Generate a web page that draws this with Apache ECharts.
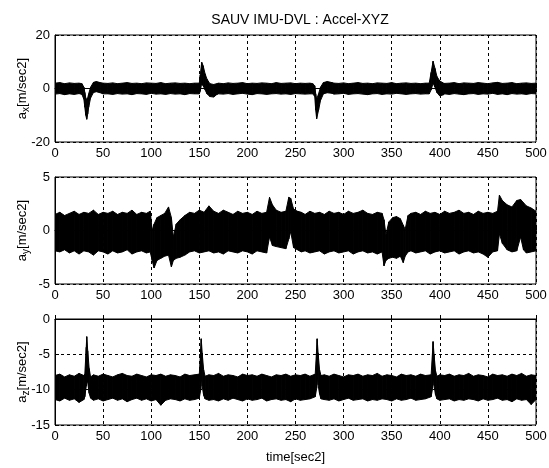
<!DOCTYPE html>
<html>
<head>
<meta charset="utf-8">
<script src="https://cdn.jsdelivr.net/npm/echarts@6/dist/echarts.min.js"></script>
<style>
  html, body { margin: 0; padding: 0; background: #fff; }
  #chart { width: 549px; height: 468px; }
</style>
</head>
<body>
<div id="chart"></div>
<script>
// a_x : envelope of the noisy signal (upper / lower edge)
const axTime = [
  0, 5, 10, 15, 20, 25,
  28, 30, 31, 32, 33, 34, 35, 37, 40, 43, 47, 50,
  55, 60, 65, 70, 75, 80, 85, 90, 95, 100, 105, 110, 115, 120, 125, 130, 135, 140, 145,
  150, 151, 152.5, 154, 156, 158, 161, 165, 168,
  170, 175, 180, 185, 190, 195, 200, 205, 210, 215, 220, 225, 230, 235, 240, 245, 250, 255, 260, 265,
  268, 270, 271, 272, 274, 276, 279, 283, 288,
  290, 295, 300, 305, 310, 315, 320, 325, 330, 335, 340, 345, 350, 355, 360, 365, 370, 375, 380, 385,
  389, 391, 393, 395, 397, 400, 404,
  405, 410, 415, 420, 425, 430, 435, 440, 445, 450, 455, 460, 465, 470, 475, 480, 485, 490, 495, 500
];
const axHigh = [
  2.0, 2.2, 1.8, 2.1, 1.9, 2.0,
  1.8, 0.5, -1.5, -3.5, -4.5, -3.5, -2.0, 0.5, 2.3, 2.6, 2.2, 2.0,
  1.9, 2.1, 1.8, 2.0, 2.2, 1.9, 2.0, 1.8, 2.1, 2.0, 1.9, 2.2, 1.8, 2.0, 2.1, 1.9, 2.0, 1.8, 2.0,
  2.0, 5.0, 9.8, 8.5, 5.5, 3.5, 1.8, 1.5, 1.8,
  2.0, 1.8, 2.1, 1.9, 2.0, 2.2, 1.8, 2.0, 1.9, 2.1, 2.0, 1.8, 2.2, 1.9, 2.0, 2.1, 1.8, 2.0, 1.9, 2.0,
  1.8, 1.0, -2.0, -4.0, -2.0, 0.5, 2.2, 2.6, 2.2,
  2.0, 1.9, 2.1, 1.8, 2.0, 2.2, 1.9, 2.0, 1.8, 2.1, 2.0, 1.9, 2.2, 1.8, 2.0, 2.1, 1.9, 2.0, 1.8, 2.0,
  2.0, 6.0, 10.2, 7.5, 4.5, 2.8, 2.0,
  1.9, 2.0, 2.2, 1.8, 2.1, 2.0, 1.9, 2.2, 2.0, 1.8, 2.1, 2.3, 1.9, 2.0, 2.2, 1.8, 2.0, 2.1, 1.9, 2.0
];
const axLow = [
  -2.1, -1.9, -2.3, -2.0, -2.2, -1.9,
  -2.2, -4.0, -7.0, -10.0, -11.5, -9.5, -7.0, -3.5, -1.5, -1.2, -1.6, -2.0,
  -2.0, -2.2, -1.9, -2.1, -2.0, -2.3, -1.9, -2.0, -2.2, -1.8, -2.1, -2.0, -2.2, -1.9, -2.1, -2.0, -2.3, -1.9, -2.0,
  -2.0, -1.0, 2.0, 1.0, -0.5, -2.0, -3.0, -3.2, -2.3,
  -2.0, -2.1, -1.9, -2.2, -2.0, -1.8, -2.1, -2.3, -1.9, -2.0, -2.2, -2.0, -1.9, -2.1, -2.0, -2.2, -1.9, -2.0, -2.1, -2.0,
  -2.0, -3.0, -8.0, -11.3, -8.0, -4.5, -2.0, -1.6, -1.8,
  -2.1, -2.0, -1.8, -2.2, -2.0, -1.9, -2.1, -2.3, -2.0, -1.9, -2.2, -2.0, -2.1, -1.8, -2.0, -2.2, -2.0, -1.9, -2.1, -2.0,
  -2.0, -0.5, 2.0, 0.5, -1.5, -2.8, -2.3,
  -2.0, -2.2, -1.9, -2.1, -2.3, -2.0, -1.9, -2.2, -2.0, -2.1, -1.8, -2.2, -2.0, -2.3, -1.9, -2.1, -2.0, -2.2, -1.9, -2.0
];

// a_y
const ayTime = [
  0, 5, 10, 15, 20, 25, 30, 35, 40, 45, 50, 55, 60, 65, 70, 75, 80, 85, 90, 95,
  99, 101, 103, 106, 110, 114, 118, 121, 123, 126, 130, 135, 140, 145,
  150, 155, 160, 165, 170, 175, 180, 185, 190, 195, 200, 205, 210, 215, 220,
  223, 226, 230, 235, 240, 243, 245, 248, 252, 256,
  260, 265, 270, 275, 280, 285, 290, 295, 300, 305, 310, 315, 320, 325, 330, 335, 340,
  342, 344, 347, 351, 355, 359, 362, 364, 367,
  370, 375, 380, 385, 390, 395, 400, 405, 410, 415, 420, 425, 430, 435, 440, 445, 450, 455, 460,
  462, 465, 470, 475, 480, 484, 487, 490, 495, 500
];
const ayHigh = [
  1.5, 1.7, 1.4, 1.6, 1.8, 1.5, 1.7, 1.6, 1.9, 1.5, 1.7, 1.6, 1.8, 1.5, 1.7, 1.6, 1.9, 1.5, 1.7, 1.6,
  1.8, 0.0, 0.6, 1.2, 1.4, 1.6, 2.2, 1.2, -0.6, 0.6, 1.0, 1.4, 1.7, 1.6,
  1.9, 1.7, 2.3, 1.8, 1.6, 1.9, 1.7, 1.5, 1.8, 1.6, 1.7, 1.5, 1.8, 1.6, 1.7,
  3.1, 2.4, 1.9, 1.7, 1.8, 3.1, 3.0, 2.0, 1.8, 1.7,
  1.5, 1.8, 1.6, 1.7, 1.5, 1.8, 1.6, 1.7, 1.5, 1.8, 1.6, 1.7, 1.9, 1.6, 1.5, 1.7, 1.6,
  1.0, -0.4, 0.8, 1.2, 1.3, 1.1, 0.5, 0.1, 1.4,
  1.6, 1.7, 1.5, 1.8, 1.6, 1.7, 1.5, 1.8, 1.6, 1.7, 1.9, 1.6, 1.7, 1.5, 1.8, 1.6, 1.7, 1.6, 1.8,
  3.3, 2.8, 2.4, 2.2, 2.8, 2.9, 2.6, 2.3, 2.1, 1.8
];
const ayLow = [
  -1.9, -2.0, -1.8, -2.1, -1.9, -2.2, -1.9, -2.0, -2.3, -1.9, -2.0, -2.2, -1.9, -2.1, -2.0, -1.8, -2.2, -2.0, -1.9, -2.1,
  -2.0, -2.8, -3.5, -2.8, -2.6, -2.4, -2.3, -3.4, -2.8, -2.6, -2.5, -2.3, -2.0, -1.9,
  -2.1, -2.0, -1.9, -2.1, -2.0, -2.2, -1.9, -2.0, -2.1, -1.9, -2.0, -2.2, -1.9, -2.0, -2.1,
  -0.6, -1.4, -1.5, -1.6, -1.7, -0.8, -0.1, -1.6, -1.8, -2.0,
  -1.9, -2.1, -2.0, -1.9, -2.2, -2.0, -1.9, -2.1, -2.0, -1.9, -2.2, -2.0, -1.9, -2.1, -2.0, -2.2, -2.0,
  -3.3, -2.8, -2.6, -2.5, -2.6, -2.4, -3.0, -2.4, -2.0,
  -1.9, -2.1, -2.0, -1.9, -2.2, -2.0, -1.9, -2.1, -2.0, -1.9, -2.2, -2.0, -1.9, -2.1, -2.0, -2.2, -2.5, -2.0, -1.9,
  -0.3, -1.2, -1.8, -2.0, -1.9, -0.6, -1.8, -2.1, -2.0, -1.9
];

// a_z
const azTime = [
  0, 5, 10, 15, 20, 25, 30,
  31, 32.5, 33, 34, 35.5, 37,
  40, 45, 50, 55, 60, 65, 70, 75, 80, 85, 90, 95, 100, 105, 110, 115, 120, 125, 130, 135, 140, 145,
  150, 151.5, 152, 153, 154.5, 156,
  160, 165, 170, 175, 180, 185, 190, 195, 200, 205, 210, 215, 220, 225, 230, 235, 240, 245, 250, 255, 260, 265,
  270.5, 272, 272.5, 273.5, 275, 276.5,
  280, 285, 290, 295, 300, 305, 310, 315, 320, 325, 330, 335, 340, 345, 350, 355, 360, 365, 370, 375, 380, 385,
  391, 392.5, 393, 394, 395.5, 397,
  400, 405, 410, 415, 420, 425, 430, 435, 440, 445, 450, 455, 460, 465, 470, 475, 480, 485, 490, 495, 500
];
const azHigh = [
  -8.0, -7.8, -8.2, -7.9, -8.1, -7.7, -8.0,
  -7.8, -4.0, -2.5, -4.5, -7.0, -8.2,
  -7.9, -8.1, -7.8, -8.0, -8.2, -7.9, -7.7, -8.0, -8.1, -7.8, -8.0, -8.2, -7.9, -8.0, -7.8, -8.1, -7.9, -8.0, -8.2, -7.8, -8.0, -7.9,
  -7.8, -4.2, -2.8, -4.8, -7.2, -8.1,
  -7.9, -8.0, -7.7, -8.1, -7.9, -8.0, -8.2, -7.8, -8.0, -7.9, -8.1, -7.8, -8.0, -8.2, -7.9, -8.0, -7.8, -8.1, -7.9, -8.0, -7.8, -8.1,
  -7.8, -4.2, -2.8, -4.8, -7.2, -8.0,
  -7.9, -8.1, -7.8, -8.0, -8.2, -7.9, -8.0, -7.8, -8.1, -7.9, -8.0, -7.7, -8.1, -7.9, -8.0, -8.2, -7.8, -8.0, -7.9, -8.1, -7.8, -8.0,
  -7.9, -4.5, -3.2, -5.0, -7.3, -8.1,
  -7.9, -8.0, -7.8, -8.1, -7.9, -8.0, -7.7, -8.1, -7.9, -8.0, -8.2, -7.8, -8.0, -7.9, -8.1, -7.8, -8.0, -7.7, -8.1, -7.9, -8.0
];
const azLow = [
  -11.4, -11.6, -11.2, -11.5, -11.3, -11.8, -11.4,
  -11.0, -9.5, -7.5, -9.0, -10.5, -11.2,
  -11.5, -11.3, -11.6, -11.4, -11.2, -11.5, -11.3, -11.7, -11.4, -11.2, -11.5, -11.3, -11.6, -11.4, -12.2, -11.5, -11.3, -11.4, -11.6, -11.3, -11.5, -11.4,
  -11.2, -10.0, -8.0, -9.5, -10.8, -11.3,
  -11.5, -11.4, -11.6, -11.3, -11.5, -11.2, -11.4, -11.6, -11.3, -11.5, -11.4, -11.2, -11.6, -11.4, -11.3, -11.5, -11.4, -11.7, -11.3, -11.5, -11.4, -11.3,
  -11.0, -9.8, -7.8, -9.3, -10.6, -11.3,
  -11.4, -11.5, -11.3, -11.6, -11.4, -11.2, -11.5, -11.4, -11.3, -11.6, -11.4, -11.5, -11.3, -11.4, -11.6, -11.3, -11.5, -11.4, -11.2, -11.5, -11.4, -11.3,
  -11.0, -9.8, -8.0, -9.4, -10.7, -11.3,
  -11.5, -11.4, -11.3, -11.6, -11.4, -11.5, -11.3, -11.4, -11.6, -11.3, -11.5, -11.4, -11.2, -11.5, -11.4, -11.7, -11.3, -11.5, -11.4, -12.1, -11.4
];

const xTicks = { min: 0, max: 500, interval: 50 };
const yRanges = [
  { min: -20, max: 20, interval: 20 },
  { min: -5, max: 5, interval: 5 },
  { min: -15, max: 0, interval: 5 },
];
const yNames = ['x', 'y', 'z'];

const FONT = '"Liberation Sans", Arial, sans-serif';
const gridTops = [35, 177, 319];
const gridHeights = [107, 107, 106];

const dashed = { color: '#000', width: 1, type: [3, 3] };

const grids = gridTops.map((top, i) => ({
  left: 55,
  top: top,
  width: 481,
  height: gridHeights[i],
  containLabel: false,
  outerBoundsMode: 'none',
  show: true,
  borderColor: '#000',
  borderWidth: 1,
  backgroundColor: '#fff',
}));

const xAxes = gridTops.map((t, i) => ({
  type: 'value',
  gridIndex: i,
  min: xTicks.min,
  max: xTicks.max,
  interval: xTicks.interval,
  axisLine: { show: true, lineStyle: { color: '#000' } },
  axisTick: { show: true, inside: true, length: 4, lineStyle: { color: '#000' } },
  axisLabel: { color: '#000', fontFamily: FONT, fontSize: 13, margin: 5, showMinLabel: true, showMaxLabel: true },
  splitLine: { show: true, lineStyle: dashed },
  name: i === 2 ? 'time[sec2]' : '',
  nameLocation: 'middle',
  nameGap: 26,
  nameTextStyle: { color: '#000', fontFamily: FONT, fontSize: 13 },
}));

const yAxes = yRanges.map((r, i) => ({
  type: 'value',
  gridIndex: i,
  min: r.min,
  max: r.max,
  interval: r.interval,
  axisLine: { show: true, lineStyle: { color: '#000' } },
  axisTick: { show: true, inside: true, length: 4, lineStyle: { color: '#000' } },
  axisLabel: { color: '#000', fontFamily: FONT, fontSize: 13, margin: 5 },
  splitLine: { show: true, lineStyle: dashed },
  name: '{a|a}{s|' + yNames[i] + '}{b|[m/sec2]}',
  nameLocation: 'middle',
  nameRotate: 90,
  nameGap: 24,
  nameMoveOverlap: false,
  nameTextStyle: {
    color: '#000',
    rich: {
      a: { fontFamily: FONT, fontSize: 13, lineHeight: 18, verticalAlign: 'middle', color: '#000' },
      s: { fontFamily: FONT, fontSize: 10, lineHeight: 18, verticalAlign: 'bottom', color: '#000' },
      b: { fontFamily: FONT, fontSize: 13, lineHeight: 18, verticalAlign: 'middle', color: '#000' },
    },
  },
}));

// each plot is a filled band between the lower and the upper edge,
// one quad per time step, placed through the axes with api.coord
function band(i, time, low, high) {
  return {
    type: 'custom',
    xAxisIndex: i,
    yAxisIndex: i,
    silent: true,
    clip: true,
    data: time.slice(0, -1).map((t, k) => [t, low[k], high[k]]),
    encode: { x: 0, y: [1, 2] },
    renderItem: (params, api) => {
      const k = params.dataIndex;
      const pts = [
        api.coord([time[k], low[k]]),
        api.coord([time[k + 1], low[k + 1]]),
        api.coord([time[k + 1], high[k + 1]]),
        api.coord([time[k], high[k]]),
      ];
      return {
        type: 'polygon',
        shape: { points: pts },
        style: { fill: '#000', stroke: '#000', lineWidth: 1 },
      };
    },
  };
}

const myChart = echarts.init(document.getElementById('chart'));
myChart.setOption({
  animation: false,
  backgroundColor: '#fff',
  title: {
    text: 'SAUV IMU-DVL : Accel-XYZ',
    left: 295,
    top: 8,
    textAlign: 'center',
    textStyle: { color: '#000', fontFamily: FONT, fontSize: 14, fontWeight: 'normal' },
  },
  grid: grids,
  xAxis: xAxes,
  yAxis: yAxes,
  series: [
    band(0, axTime, axLow, axHigh),
    band(1, ayTime, ayLow, ayHigh),
    band(2, azTime, azLow, azHigh),
  ],
});
</script>
</body>
</html>
